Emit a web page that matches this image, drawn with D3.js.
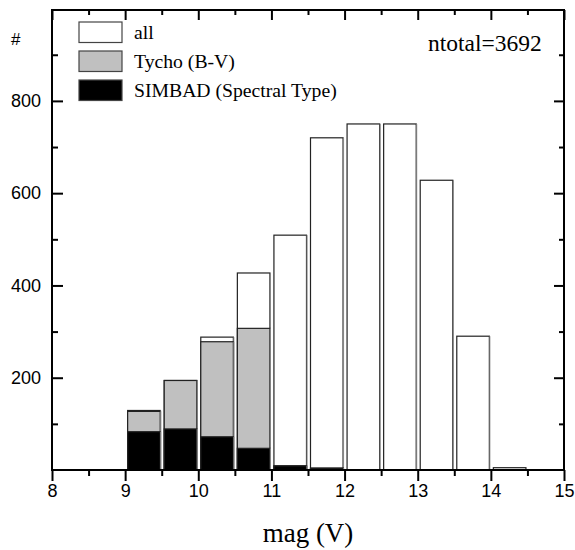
<!DOCTYPE html>
<html>
<head>
<meta charset="utf-8">
<script src="https://cdn.jsdelivr.net/npm/d3@7"></script>
<style>
  body { margin: 0; background: #fff; }
  svg { display: block; }
  .tick text { font-family: "Liberation Sans", Arial, sans-serif; font-size: 18px; fill: #000; }
  .serif { font-family: "Liberation Serif", "Times New Roman", serif; }
</style>
</head>
<body>
<svg class="chart"></svg>
<script>
// bin starts (mag V), bins 0.5 wide
var binStart = [9, 9.5, 10, 10.5, 11, 11.5, 12, 12.5, 13, 13.5, 14];
var allCounts = [129, 194, 288, 427, 509, 720, 750, 750, 628, 290, 5];
var tychoCounts = [127, 194, 278, 307, 9, 4, 0, 0, 0, 0, 0];
var simbadCounts = [83, 89, 72, 47, 9, 4, 0, 0, 0, 0, 0];
var legendLabels = ["all", "Tycho (B-V)", "SIMBAD (Spectral Type)"];
var legendFills = ["#ffffff", "#c0c0c0", "#000000"];
var xTicks = [8, 9, 10, 11, 12, 13, 14, 15];
var xMinor = [8.5, 9.5, 10.5, 11.5, 12.5, 13.5, 14.5];
var yTicks = [200, 400, 600, 800];
var yMinor = [100, 300, 500, 700, 900];
var binWidth = 0.5;

var width = 575, height = 550;
var pLeft = 52, pRight = 564, pTop = 10, pBottom = 470;

var chart = d3.select(".chart")
  .attr("width", width)
  .attr("height", height);

var x = d3.scaleLinear().domain([8, 15]).range([pLeft, pRight]);
var y = d3.scaleLinear().domain([0, 997]).range([pBottom, pTop]);

// bars: all, then tycho, then simbad on top
var series = [allCounts, tychoCounts, simbadCounts];
series.forEach(function(vals, si) {
  var rows = binStart.map(function(b, i) { return [b, vals[i]]; }).filter(function(d) { return d[1] > 0; });
  chart.append("g")
    .selectAll("rect")
    .data(rows)
    .enter()
    .append("rect")
    .attr("x", function(d) { return x(d[0]) + 2.5; })
    .attr("width", function(d) { return x(d[0] + binWidth) - x(d[0]) - 4; })
    .attr("y", function(d) { return y(d[1]); })
    .attr("height", function(d) { return y(0) - y(d[1]); })
    .attr("fill", legendFills[si])
    .attr("stroke", "#222")
    .attr("stroke-width", 1.2);
  // gray shading on right edge
  chart.append("g")
    .selectAll("line")
    .data(rows)
    .enter()
    .append("line")
    .attr("x1", function(d) { return x(d[0] + binWidth) - 1; })
    .attr("x2", function(d) { return x(d[0] + binWidth) - 1; })
    .attr("y1", function(d) { return y(d[1]); })
    .attr("y2", y(0))
    .attr("stroke", "#888")
    .attr("stroke-width", 1);
});

// axes
function tidy(g) {
  g.select(".domain").remove();
  g.selectAll(".tick line").attr("stroke", "#000").attr("stroke-width", 2);
}

chart.append("g")
  .attr("transform", "translate(0," + pBottom + ")")
  .call(d3.axisBottom(x).tickValues(xTicks).tickSize(11).tickPadding(3).tickFormat(d3.format("d")))
  .call(tidy);
chart.append("g")
  .attr("transform", "translate(0," + pBottom + ")")
  .call(d3.axisBottom(x).tickValues(xMinor).tickSize(6).tickFormat(""))
  .call(tidy);

chart.append("g")
  .attr("transform", "translate(0," + pTop + ")")
  .call(d3.axisTop(x).tickValues(xTicks).tickSize(-10).tickFormat(""))
  .call(tidy);
chart.append("g")
  .attr("transform", "translate(0," + pTop + ")")
  .call(d3.axisTop(x).tickValues(xMinor).tickSize(-5).tickFormat(""))
  .call(tidy);

chart.append("g")
  .attr("transform", "translate(" + pLeft + ",0)")
  .call(d3.axisLeft(y).tickValues(yTicks).tickSize(-11).tickPadding(11))
  .call(tidy);
chart.append("g")
  .attr("transform", "translate(" + pLeft + ",0)")
  .call(d3.axisLeft(y).tickValues(yMinor).tickSize(-6).tickFormat(""))
  .call(tidy);

chart.append("g")
  .attr("transform", "translate(" + pRight + ",0)")
  .call(d3.axisRight(y).tickValues(yTicks).tickSize(-10).tickFormat(""))
  .call(tidy);
chart.append("g")
  .attr("transform", "translate(" + pRight + ",0)")
  .call(d3.axisRight(y).tickValues(yMinor).tickSize(-5).tickFormat(""))
  .call(tidy);

// frame
chart.append("rect")
  .attr("x", pLeft)
  .attr("y", pTop)
  .attr("width", pRight - pLeft)
  .attr("height", pBottom - pTop)
  .attr("fill", "none")
  .attr("stroke", "#000")
  .attr("stroke-width", 2);

// "#" y label
chart.append("text")
  .attr("x", 11)
  .attr("y", 45)
  .style("font-family", "Liberation Sans, Arial, sans-serif")
  .style("font-size", "17px")
  .text("#");

// x title
chart.append("text")
  .attr("class", "serif")
  .attr("x", (pLeft + pRight) / 2)
  .attr("y", 541.5)
  .attr("text-anchor", "middle")
  .style("font-size", "27px")
  .text("mag (V)");

// ntotal
chart.append("text")
  .attr("class", "serif")
  .attr("x", 428)
  .attr("y", 51)
  .style("font-size", "23.5px")
  .text("ntotal=3692");

// legend
var legend = chart.append("g")
  .selectAll("g")
  .data(legendLabels)
  .enter()
  .append("g")
  .attr("transform", function(d, i) { return "translate(79," + (22 + i * 29) + ")"; });

legend.append("rect")
  .attr("width", 43)
  .attr("height", 20.5)
  .attr("fill", function(d, i) { return legendFills[i]; })
  .attr("stroke", "#444")
  .attr("stroke-width", 1.2);

legend.append("text")
  .attr("class", "serif")
  .attr("x", 55)
  .attr("y", 16.5)
  .style("font-size", "19.7px")
  .text(function(d) { return d; });
</script>
</body>
</html>
